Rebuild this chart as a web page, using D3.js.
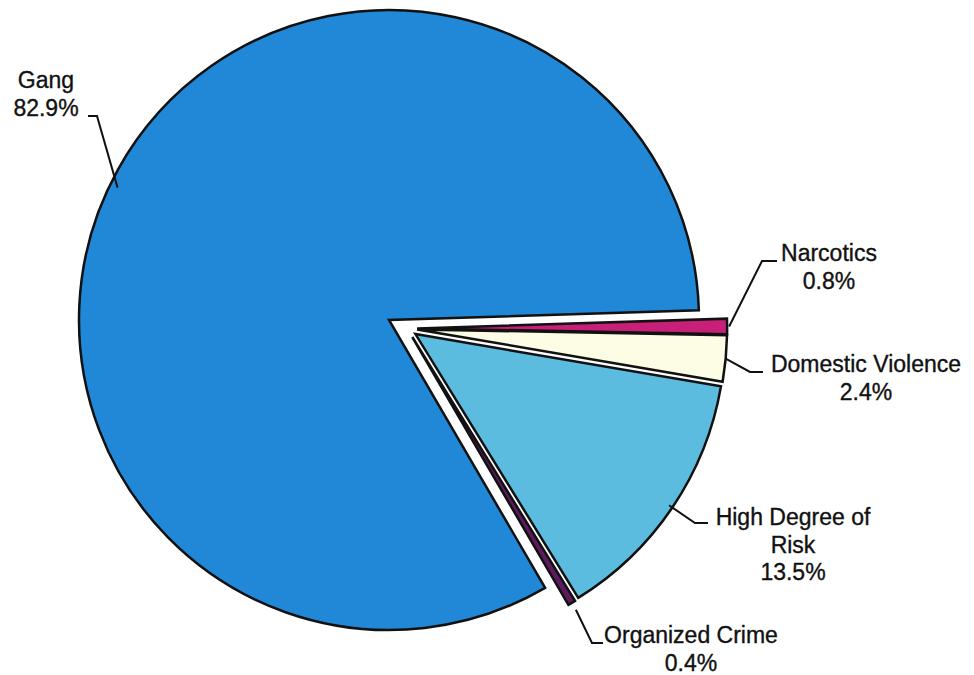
<!DOCTYPE html>
<html>
<head>
<meta charset="utf-8">
<script src="https://cdn.jsdelivr.net/npm/d3@7"></script>
<style>
  html, body { margin: 0; padding: 0; background: #fff; }
  svg text { font-family: "Liberation Sans", Arial, sans-serif; font-size: 23px; fill: #111; stroke: #111; stroke-width: 0.35px; }
</style>
</head>
<body>
<div id="chart"></div>
<script>
// slices, listed clockwise starting just above 3 o'clock
const categories = ["Narcotics", "Domestic Violence", "High Degree of Risk", "Organized Crime", "Gang"];
const values = [0.8, 2.4, 13.5, 0.4, 82.9];
const labelLines = [
  ["Narcotics", "0.8%"],
  ["Domestic Violence", "2.4%"],
  ["High Degree of", "Risk", "13.5%"],
  ["Organized Crime", "0.4%"],
  ["Gang", "82.9%"]
];
const colors = ["#c81f78", "#fdfce4", "#5bbcdf", "#5e1a5e", "#2188d8"];
const exploded = [true, true, true, true, false];

(function() {
  const width = 974, height = 675;
  const cx = 389, cy = 320, radius = 310;
  const rad = deg => deg * Math.PI / 180;

  const svg = d3.select("#chart").append("svg")
    .attr("width", width)
    .attr("height", height);

  const g = svg.append("g").attr("transform", `translate(${cx}, ${cy})`);

  const start = rad(88.2);
  const pie = d3.pie().sort(null).value(d => d)
    .startAngle(start).endAngle(start + 2 * Math.PI);
  const arcs = pie(values);
  const arc = d3.arc().innerRadius(0).outerRadius(radius);

  // the small slices are pulled out together, with a little extra each
  const groupAngle = rad(115), groupDist = 20, ownDist = 10;
  const polar = (a, r) => [Math.sin(a) * r, -Math.cos(a) * r];
  const offsetOf = (d, i) => {
    if (!exploded[i]) return [0, 0];
    const mid = (d.startAngle + d.endAngle) / 2;
    const [gx, gy] = polar(groupAngle, groupDist);
    const [ox, oy] = polar(mid, ownDist);
    return [gx + ox, gy + oy];
  };

  g.selectAll("path.slice")
    .data(arcs)
    .enter()
    .append("path")
    .attr("class", "slice")
    .attr("transform", (d, i) => `translate(${offsetOf(d, i)})`)
    .attr("d", arc)
    .attr("fill", (d, i) => colors[i])
    .attr("stroke", "#111")
    .attr("stroke-width", 2.5)
    .attr("stroke-linejoin", "miter");

  // leader elbows and text placement (page coords)
  const labelLayout = [
    { anchorR: 312, elbow: [762, 261], end: [777, 261], tx: 829, ty: 261 },
    { anchorR: 310, elbow: [750, 372], end: [763, 372], tx: 866, ty: 372 },
    { anchorR: 306, elbow: [695, 523], end: [708, 523], tx: 793, ty: 525 },
    { anchorR: 318, elbow: [592, 643], end: [603, 643], tx: 691, ty: 643 },
    { anchorR: 302, angle: 296, elbow: [97, 116], end: [88, 116], tx: 46, ty: 88 }
  ];

  const labels = svg.append("g");
  arcs.forEach((d, i) => {
    const L = labelLayout[i];
    const mid = L.angle !== undefined ? rad(L.angle) : (d.startAngle + d.endAngle) / 2;
    const [ox, oy] = offsetOf(d, i);
    const [px, py] = polar(mid, L.anchorR);
    const pts = [[cx + ox + px, cy + oy + py], L.elbow, L.end];

    labels.append("path")
      .attr("d", d3.line()(pts))
      .attr("fill", "none")
      .attr("stroke", "#111")
      .attr("stroke-width", 2);

    const text = labels.append("text")
      .attr("text-anchor", "middle")
      .attr("x", L.tx)
      .attr("y", L.ty);
    labelLines[i].forEach((line, j) => {
      text.append("tspan")
        .attr("x", L.tx)
        .attr("dy", j === 0 ? 0 : 27.5)
        .text(line);
    });
  });
})();
</script>
</body>
</html>
